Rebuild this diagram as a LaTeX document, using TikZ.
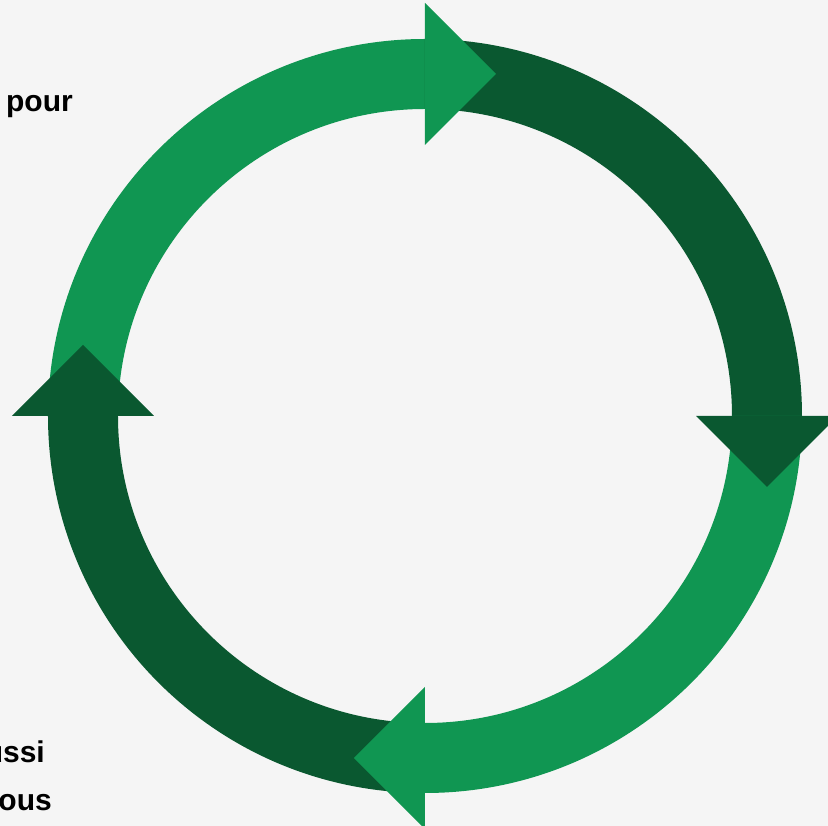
\documentclass[tikz,border=0pt]{standalone}
\usepackage{fontspec}
\setmainfont{Liberation Sans}
\usepackage{tikz}
\usetikzlibrary{positioning}

\definecolor{segLight}{HTML}{109652}
\definecolor{segDark}{HTML}{0A5830}
\definecolor{bgGray}{HTML}{F5F5F5}

\tikzset{
    lightseg/.style={fill=segLight},
    darkseg/.style={fill=segDark},
    sidetext/.style={anchor=base east, inner sep=0pt, font=\fontsize{30}{36}\selectfont\bfseries}
}

\begin{document}
\begin{tikzpicture}[x=1pt, y=1pt]
    \fill[bgGray] (-425,-410) rectangle (403,416);
    \useasboundingbox (-425,-410) rectangle (403,416);

    % ring quarters
    \fill[lightseg] (180:377) arc (180:90:377) -- (90:307) arc (90:180:307) -- cycle;
    \fill[darkseg] (90:377) arc (90:0:377) -- (0:307) arc (0:90:307) -- cycle;
    \fill[lightseg] (0:377) arc (0:-90:377) -- (-90:307) arc (-90:0:307) -- cycle;
    \fill[darkseg] (-90:377) arc (-90:-180:377) -- (-180:307) arc (-180:-90:307) -- cycle;

    % arrow heads
    \fill[lightseg] (0,413) -- (71,342) -- (0,271) -- cycle;
    \fill[darkseg] (413,0) -- (342,-71) -- (271,0) -- cycle;
    \fill[lightseg] (0,-271) -- (-71,-342) -- (0,-413) -- cycle;
    \fill[darkseg] (-413,0) -- (-342,71) -- (-271,0) -- cycle;

    % cut-off side texts
    \node[sidetext] (pour) at (-352,304) {pour};
    \node[sidetext] (ussi) at (-380,-347) {ussi};
    \node[sidetext] (ous) at (-373,-395) {ous};
\end{tikzpicture}
\end{document}
